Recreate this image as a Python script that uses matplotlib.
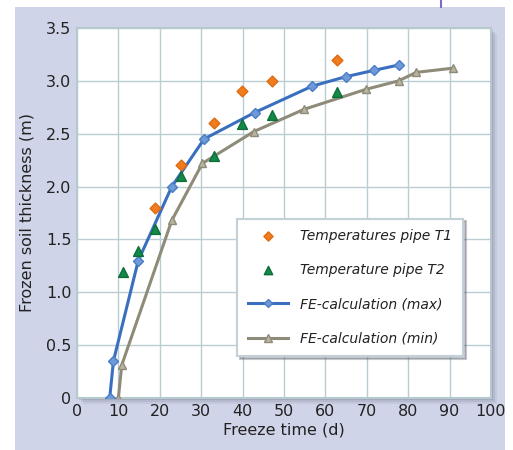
import matplotlib
matplotlib.use("Agg")
import matplotlib.pyplot as plt
from matplotlib.patches import Rectangle
from matplotlib.lines import Line2D

# FE-calculation (max)
max_x = [7.9, 8.8, 14.8, 22.9, 30.7, 42.9, 56.8, 65.0, 71.8, 77.7]
max_y = [0.0, 0.35, 1.30, 2.00, 2.45, 2.70, 2.95, 3.04, 3.10, 3.15]

# FE-calculation (min)
min_x = [10.0, 10.8, 22.9, 30.3, 42.7, 54.8, 69.8, 77.7, 81.9, 90.8]
min_y = [0.0, 0.31, 1.68, 2.22, 2.52, 2.73, 2.92, 3.00, 3.08, 3.12]

# Temperatures pipe T1
t1_x = [18.9, 25.1, 33.0, 39.8, 47.0, 62.9]
t1_y = [1.80, 2.20, 2.60, 2.90, 3.00, 3.20]

# Temperature pipe T2
t2_x = [11.0, 14.8, 18.9, 25.1, 33.0, 39.8, 47.0, 62.9]
t2_y = [1.19, 1.39, 1.60, 2.10, 2.29, 2.59, 2.68, 2.89]

x_ticks = [0, 10, 20, 30, 40, 50, 60, 70, 80, 90, 100]
y_ticks = [0, 0.5, 1.0, 1.5, 2.0, 2.5, 3.0, 3.5]
y_labels = ["0", "0.5", "1.0", "1.5", "2.0", "2.5", "3.0", "3.5"]

W, H = 513, 450
fig = plt.figure(figsize=(W / 100, H / 100), dpi=100)
fig.patch.set_facecolor("white")

# lavender panel behind the chart
fig.patches.append(Rectangle((15 / W, 0), 490 / W, 443 / H,
                             transform=fig.transFigure,
                             facecolor="#d0d4e8", edgecolor="none", zorder=0))
fig.lines.append(Line2D([441 / W, 441 / W], [443 / H, 1],
                        transform=fig.transFigure, color="#7a6cc4", lw=1.5))

ax_l, ax_b = 77 / W, (H - 398) / H
ax_w, ax_h = (491 - 77) / W, (398 - 28) / H

# drop shadow of the plot area
for off, a in [(6, 0.10), (4, 0.15), (2, 0.2)]:
    fig.patches.append(Rectangle((ax_l + off / W, ax_b - off / H), ax_w, ax_h,
                                 transform=fig.transFigure,
                                 facecolor="#606878", alpha=a,
                                 edgecolor="none", zorder=1))

ax = fig.add_axes([ax_l, ax_b, ax_w, ax_h])
ax.set_facecolor("white")
ax.set_zorder(2)

ax.plot(max_x, max_y, color="#3a6fc0", lw=2.2, marker="D", ms=5,
        mfc="#6e9ad8", mec="#4a7cc8", label="FE-calculation (max)", zorder=4)
ax.plot(min_x, min_y, color="#8e8b78", lw=2.2, marker="^", ms=6,
        mfc="#b8b4a0", mec="#8e8b78", label="FE-calculation (min)", zorder=3)
ax.scatter(t1_x, t1_y, marker="D", s=30, color="#f07c20",
           edgecolors="#e06a10", label="Temperatures pipe T1", zorder=5)
ax.scatter(t2_x, t2_y, marker="^", s=50, color="#138a48",
           edgecolors="#0e6e38", label="Temperature pipe T2", zorder=5)

ax.set_xlim(0, 100)
ax.set_ylim(0, 3.5)
ax.set_xticks(x_ticks)
ax.set_yticks(y_ticks)
ax.set_yticklabels(y_labels)
ax.grid(True, color="#b9cdd3", lw=1)
ax.set_axisbelow(True)
ax.tick_params(length=0, labelsize=11.5, colors="#222222", pad=4)
for s in ax.spines.values():
    s.set_color("#b5c9ce")
    s.set_linewidth(1.5)

ax.set_xlabel("Freeze time (d)", fontsize=11.5, color="#222222", labelpad=3)
ax.set_ylabel("Frozen soil thickness (m)", fontsize=11.5, color="#222222",
              labelpad=8)

handles, labels = ax.get_legend_handles_labels()
order = [2, 3, 0, 1]
leg = ax.legend([handles[i] for i in order], [labels[i] for i in order],
                loc="upper left", bbox_to_anchor=(0.387, 0.485),
                prop={"style": "italic", "size": 10},
                frameon=True, fancybox=False,
                shadow={"color": "#5a6070", "alpha": 0.35},
                labelspacing=1.45, handlelength=2.9, borderpad=0.75,
                handletextpad=0.9, borderaxespad=0, markerscale=0.85)
leg.get_frame().set_edgecolor("#c3d0d6")
leg.get_frame().set_linewidth(1.5)
for t in leg.get_texts():
    t.set_color("#222222")

fig.savefig("out.png", dpi=100)
